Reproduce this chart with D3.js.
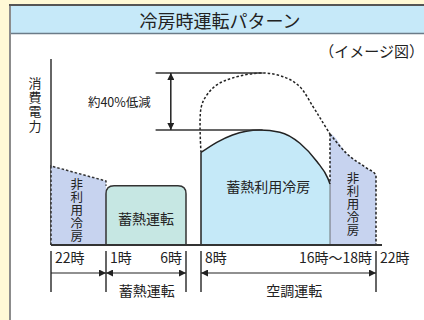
<!DOCTYPE html>
<html lang="ja">
<head>
    <meta charset="UTF-8">
    <title>冷房時運転パターン</title>
    <script src="https://cdn.jsdelivr.net/npm/d3@7"></script>
    <style>
        body { margin: 0; background: #fff9d6; }
        svg { display: block; }
        text { font-family: "Noto Sans CJK JP", "Noto Sans", sans-serif; fill: #222; }
        .vert { writing-mode: vertical-rl; }
    </style>
</head>
<body>
<script>

    var width = 424,
        height = 320;

    var title = "冷房時運転パターン";
    var note = "（イメージ図）";
    var yLabel = "消費電力";

    // x values are hours after 22時, y values are relative power
    var boundaryHours = [0, 3, 8, 10, 19, 24];
    var leftSeries = [[0, 42.7], [3, 34.6]];
    var storageLevel = 32;
    var storageHours = [3, 8];
    var mainSeries = [[10, 50], [11.1, 55.5], [12.2, 59.5], [14.1, 62.2], [15.5, 61], [16.9, 55], [18.1, 45], [18.85, 36], [19, 33]];
    var peakSeries = [[10, 50], [10, 74], [10.4, 81], [11.1, 86.5], [12.2, 90.3], [14.3, 93], [15.9, 90.5], [16.9, 85.5], [17.8, 75], [18.4, 67.5], [19, 60]];
    var rightSeries = [[19, 60], [20.8, 49.5], [23, 41.5], [24, 37.8]];

    var reductionLevels = [93, 62.2];
    var reductionHours = [6.1, 14.3];
    var reductionArrowHour = 7.05;
    var reductionLabel = "約40%低減";

    var areaLabels = [
        {text: "非利用冷房", hour: 1.4, value: 18.5, vertical: true},
        {text: "蓄熱運転", hour: 5.5, value: 14.6, vertical: false},
        {text: "蓄熱利用冷房", hour: 14.7, value: 32, vertical: false},
        {text: "非利用冷房", hour: 21.5, value: 22, vertical: true}
    ];

    var tickHours = [0, 3, 8, 10, 24];
    var tickLabels = [
        {text: "22時", hour: 0, end: false},
        {text: "1時", hour: 3, end: false},
        {text: "6時", hour: 8, end: true},
        {text: "8時", hour: 10, end: false},
        {text: "16時〜18時", hour: 24, end: true},
        {text: "22時", hour: 24, end: false}
    ];

    var periods = [
        {text: "", from: 0, to: 3, both: false, labelHour: 1.5},
        {text: "蓄熱運転", from: 3, to: 8, both: true, labelHour: 5.55},
        {text: "空調運転", from: 10, to: 24, both: true, labelHour: 16.5}
    ];

    var x = d3.scaleLinear()
        .domain(boundaryHours)
        .range([51, 106, 186, 201, 330, 376]);

    var y = d3.scaleLinear()
        .domain([0, 100])
        .range([245, 60]);

    var svg = d3.select("body").append("svg")
        .attr("width", width)
        .attr("height", height);

    var defs = svg.append("defs");
    defs.append("marker")
        .attr("id", "head")
        .attr("viewBox", "0 0 10 10")
        .attr("refX", 10)
        .attr("refY", 5)
        .attr("markerUnits", "userSpaceOnUse")
        .attr("markerWidth", 9)
        .attr("markerHeight", 7)
        .attr("orient", "auto-start-reverse")
        .append("path")
        .attr("d", "M0,0L10,5L0,10Z")
        .attr("fill", "#222");

    // frame
    svg.append("rect").attr("x", 10).attr("y", 5).attr("width", width).attr("height", height).attr("fill", "#fff");
    svg.append("rect").attr("x", 10).attr("y", 5).attr("width", width).attr("height", 28).attr("fill", "#c6e9f9");
    svg.append("line").attr("x1", 10).attr("x2", width).attr("y1", 33.5).attr("y2", 33.5).attr("stroke", "#6b7b88").attr("stroke-width", 1.5);
    svg.append("line").attr("x1", 10).attr("x2", 10).attr("y1", 5).attr("y2", height).attr("stroke", "#8c8c8c").attr("stroke-width", 2);
    svg.append("line").attr("x1", 9).attr("x2", width).attr("y1", 5).attr("y2", 5).attr("stroke", "#555").attr("stroke-width", 2);

    svg.append("text")
        .attr("x", 220).attr("y", 20)
        .attr("text-anchor", "middle")
        .attr("dominant-baseline", "central")
        .style("font-size", "18px")
        .text(title);

    svg.append("text")
        .attr("x", 424).attr("y", 50)
        .attr("text-anchor", "end")
        .attr("dominant-baseline", "central")
        .style("font-size", "15px")
        .text(note);

    svg.append("text")
        .attr("class", "vert")
        .attr("x", 35)
        .attr("y", 105)
        .attr("text-anchor", "middle")
        .style("font-size", "13px")
        .style("letter-spacing", "1.3px")
        .text(yLabel);

    // y axis
    svg.append("line")
        .attr("x1", x(0)).attr("x2", x(0))
        .attr("y1", 59).attr("y2", y(0))
        .attr("stroke", "#333").attr("stroke-width", 1.5);

    var line = d3.line()
        .x(function(d) { return x(d[0]); })
        .y(function(d) { return y(d[1]); });

    var dashed = "2.5,2";

    // left non-used cooling
    var leftPoly = [[0, 0]].concat(leftSeries).concat([[3, 0]]);
    svg.append("path")
        .attr("d", line(leftPoly) + "Z")
        .attr("fill", "#c7d3ef");
    svg.append("path")
        .attr("d", line([[0, 0]].concat(leftSeries).concat([[3, storageLevel]])))
        .attr("fill", "none")
        .attr("stroke", "#333")
        .attr("stroke-width", 1.5)
        .attr("stroke-dasharray", dashed);

    // storage operation block
    var r = 8,
        sx0 = x(storageHours[0]), sx1 = x(storageHours[1]),
        sy = y(storageLevel), sb = y(0);
    svg.append("path")
        .attr("d", "M" + sx0 + "," + sb + "V" + (sy + r) + "Q" + sx0 + "," + sy + " " + (sx0 + r) + "," + sy +
            "H" + (sx1 - r) + "Q" + sx1 + "," + sy + " " + sx1 + "," + (sy + r) + "V" + sb)
        .attr("fill", "#c6e7e3")
        .attr("stroke", "#333")
        .attr("stroke-width", 1.5);

    // right non-used cooling
    var rightPoly = [[19, 0]].concat(rightSeries).concat([[24, 0]]);
    svg.append("path")
        .attr("d", line.curve(d3.curveMonotoneX)(rightPoly) + "Z")
        .attr("fill", "#c7d3ef");
    line.curve(d3.curveLinear);

    // storage used cooling
    var mainArea = d3.area()
        .curve(d3.curveMonotoneX)
        .x(function(d) { return x(d[0]); })
        .y0(y(0))
        .y1(function(d) { return y(d[1]); });
    svg.append("path")
        .attr("d", mainArea(mainSeries))
        .attr("fill", "#c5e9f8");

    svg.append("path")
        .attr("d", d3.line().curve(d3.curveMonotoneX)
            .x(function(d) { return x(d[0]); })
            .y(function(d) { return y(d[1]); })(mainSeries))
        .attr("fill", "none")
        .attr("stroke", "#222")
        .attr("stroke-width", 1.5);
    svg.append("line")
        .attr("x1", x(10)).attr("x2", x(10))
        .attr("y1", y(0)).attr("y2", y(mainSeries[0][1]))
        .attr("stroke", "#222").attr("stroke-width", 1.5);
    svg.append("line")
        .attr("x1", x(19)).attr("x2", x(19))
        .attr("y1", y(0)).attr("y2", y(mainSeries[mainSeries.length - 1][1]))
        .attr("stroke", "#555").attr("stroke-width", 0.8);

    // dashed outlines
    svg.append("path")
        .attr("d", d3.line().curve(d3.curveCatmullRom)
            .x(function(d) { return x(d[0]); })
            .y(function(d) { return y(d[1]); })(peakSeries))
        .attr("fill", "none")
        .attr("stroke", "#222")
        .attr("stroke-width", 1.5)
        .attr("stroke-dasharray", dashed);
    svg.append("path")
        .attr("d", d3.line().curve(d3.curveMonotoneX)
            .x(function(d) { return x(d[0]); })
            .y(function(d) { return y(d[1]); })(rightSeries.concat([[24, 0]])))
        .attr("fill", "none")
        .attr("stroke", "#222")
        .attr("stroke-width", 1.5)
        .attr("stroke-dasharray", dashed);
    svg.append("line")
        .attr("x1", x(19)).attr("x2", x(19))
        .attr("y1", y(rightSeries[0][1])).attr("y2", y(mainSeries[mainSeries.length - 1][1]))
        .attr("stroke", "#222").attr("stroke-width", 1.5)
        .attr("stroke-dasharray", dashed);

    // baseline
    svg.append("line")
        .attr("x1", x(0)).attr("x2", 382)
        .attr("y1", y(0)).attr("y2", y(0))
        .attr("stroke", "#333").attr("stroke-width", 2);

    // reduction annotation
    svg.selectAll(".level")
        .data(reductionLevels)
        .enter().append("line")
        .attr("class", "level")
        .attr("x1", x(reductionHours[0])).attr("x2", x(reductionHours[1]))
        .attr("y1", function(d) { return y(d); })
        .attr("y2", function(d) { return y(d); })
        .attr("stroke", "#333").attr("stroke-width", 1.5);
    svg.append("line")
        .attr("x1", x(reductionArrowHour)).attr("x2", x(reductionArrowHour))
        .attr("y1", y(reductionLevels[0])).attr("y2", y(reductionLevels[1]))
        .attr("stroke", "#222").attr("stroke-width", 1.5)
        .attr("marker-start", "url(#head)")
        .attr("marker-end", "url(#head)");
    svg.append("text")
        .attr("x", x(reductionArrowHour) - 20)
        .attr("y", 101)
        .attr("text-anchor", "end")
        .attr("dominant-baseline", "central")
        .style("font-size", "12.5px")
        .text(reductionLabel);

    // area labels
    svg.selectAll(".arealab")
        .data(areaLabels)
        .enter().append("text")
        .attr("class", function(d) { return d.vertical ? "arealab vert" : "arealab"; })
        .attr("x", function(d) { return x(d.hour); })
        .attr("y", function(d) { return y(d.value); })
        .attr("text-anchor", "middle")
        .attr("dominant-baseline", function(d) { return d.vertical ? null : "central"; })
        .style("font-size", function(d) { return d.vertical ? "12.5px" : "14px"; })
        .style("letter-spacing", function(d) { return d.vertical ? "0.5px" : null; })
        .text(function(d) { return d.text; });

    // time ticks
    svg.selectAll(".tick")
        .data(tickHours)
        .enter().append("line")
        .attr("class", "tick")
        .attr("x1", function(d) { return x(d); })
        .attr("x2", function(d) { return x(d); })
        .attr("y1", 251).attr("y2", 292)
        .attr("stroke", "#333").attr("stroke-width", 1.5);

    svg.selectAll(".ticklab")
        .data(tickLabels)
        .enter().append("text")
        .attr("class", "ticklab")
        .attr("x", function(d) { return x(d.hour) + (d.end ? -4 : 4); })
        .attr("y", 257)
        .attr("text-anchor", function(d) { return d.end ? "end" : "start"; })
        .attr("dominant-baseline", "central")
        .style("font-size", "14px")
        .text(function(d) { return d.text; });

    svg.selectAll(".period")
        .data(periods)
        .enter().append("line")
        .attr("class", "period")
        .attr("x1", function(d) { return x(d.from); })
        .attr("x2", function(d) { return x(d.to); })
        .attr("y1", 273).attr("y2", 273)
        .attr("stroke", "#222").attr("stroke-width", 1.2)
        .attr("marker-start", function(d) { return d.both ? "url(#head)" : null; })
        .attr("marker-end", "url(#head)");

    svg.selectAll(".periodlab")
        .data(periods)
        .enter().append("text")
        .attr("class", "periodlab")
        .attr("x", function(d) { return x(d.labelHour); })
        .attr("y", 290)
        .attr("text-anchor", "middle")
        .attr("dominant-baseline", "central")
        .style("font-size", "14px")
        .text(function(d) { return d.text; });

</script>
</body>
</html>
